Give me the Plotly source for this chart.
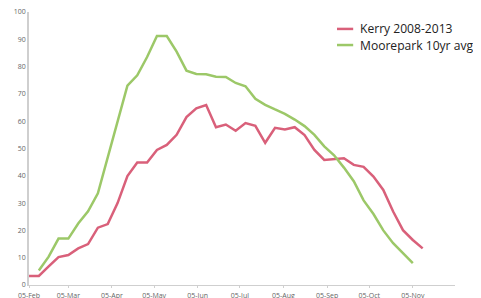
import datetime as dt
import plotly.graph_objects as go

start = dt.date(2013, 2, 5)

kerry_values = [3.3, 3.3, 6.8, 10.2, 11.0, 13.4, 15.0, 21.0, 22.3, 30.0,
                39.9, 44.9, 44.9, 49.5, 51.3, 55.0, 61.5, 64.7, 65.9, 57.8,
                58.8, 56.5, 59.3, 58.3, 52.1, 57.6, 57.0, 57.8, 54.9, 49.5,
                45.8, 46.2, 46.4, 44.0, 43.3, 39.7, 34.8, 26.9, 20.1, 16.5, 13.4]
kerry_weeks = list(range(0, 41))

moorepark_values = [5.3, 10.4, 17.0, 17.0, 22.5, 27.0, 33.6, 47.0, 60.0, 73.0,
                    76.8, 83.5, 91.2, 91.2, 85.5, 78.5, 77.3, 77.2, 76.3, 76.2,
                    74.0, 72.8, 68.2, 66.0, 64.3, 62.7, 60.6, 58.2, 55.0, 50.8,
                    47.5, 43.0, 38.0, 31.0, 26.0, 20.0, 15.3, 11.6, 8.0]
moorepark_weeks = list(range(1, 40))

tick_dates = ["2013-02-05", "2013-03-05", "2013-04-05", "2013-05-05", "2013-06-05",
              "2013-07-05", "2013-08-05", "2013-09-05", "2013-10-05", "2013-11-05"]
tick_labels = ["05-Feb", "05-Mar", "05-Apr", "05-May", "05-Jun",
               "05-Jul", "05-Aug", "05-Sep", "05-Oct", "05-Nov"]
y_ticks = [0, 10, 20, 30, 40, 50, 60, 70, 80, 90, 100]

series_names = ["Kerry 2008-2013", "Moorepark 10yr avg"]
series_colors = ["#D9607A", "#9CC868"]

kerry_dates = [start + dt.timedelta(weeks=w) for w in kerry_weeks]
moorepark_dates = [start + dt.timedelta(weeks=w) for w in moorepark_weeks]

fig = go.Figure()
fig.add_trace(go.Scatter(x=kerry_dates, y=kerry_values, mode="lines",
                         name=series_names[0], showlegend=False,
                         line=dict(color=series_colors[0], width=2.5)))
fig.add_trace(go.Scatter(x=moorepark_dates, y=moorepark_values, mode="lines",
                         name=series_names[1], showlegend=False,
                         line=dict(color=series_colors[1], width=2.5)))

# manual legend (compact spacing like the reference)
legend_rows_y = [0.938, 0.879]
for name, color, ly in zip(series_names, series_colors, legend_rows_y):
    fig.add_shape(type="line", xref="paper", yref="paper",
                  x0=0.723, x1=0.761, y0=ly, y1=ly,
                  line=dict(color=color, width=2.5))
    fig.add_annotation(xref="paper", yref="paper", x=0.772, y=ly,
                       xanchor="left", yanchor="middle", showarrow=False,
                       text=name, font=dict(size=12.1, color="#222222",
                                            family="Open Sans"))

# the page body adds an 8px offset, so margins are reduced by 8 on left/top
fig.update_layout(
    width=481, height=298,
    margin=dict(l=21, r=34, t=4, b=21, autoexpand=False),
    paper_bgcolor="white", plot_bgcolor="white",
    font=dict(family="Open Sans", color="#555555"),
    showlegend=False,
    xaxis=dict(range=["2013-02-05", "2013-12-05"], type="date",
               tickvals=tick_dates, ticktext=tick_labels,
               showgrid=False, zeroline=False, automargin=False,
               showline=True, linecolor="#CFCFCF", linewidth=1,
               ticks="outside", ticklen=2, tickcolor="#CFCFCF",
               ticklabelstandoff=2, ticklabeloverflow="allow",
               tickfont=dict(size=7, color="#666666")),
    yaxis=dict(range=[0, 100], tickvals=y_ticks,
               showgrid=False, zeroline=False, automargin=False,
               showline=True, linecolor="#CFCFCF", linewidth=1.5,
               ticks="", ticklabeloverflow="allow",
               tickfont=dict(size=7, color="#666666")),
)

fig.write_html("out.html")
